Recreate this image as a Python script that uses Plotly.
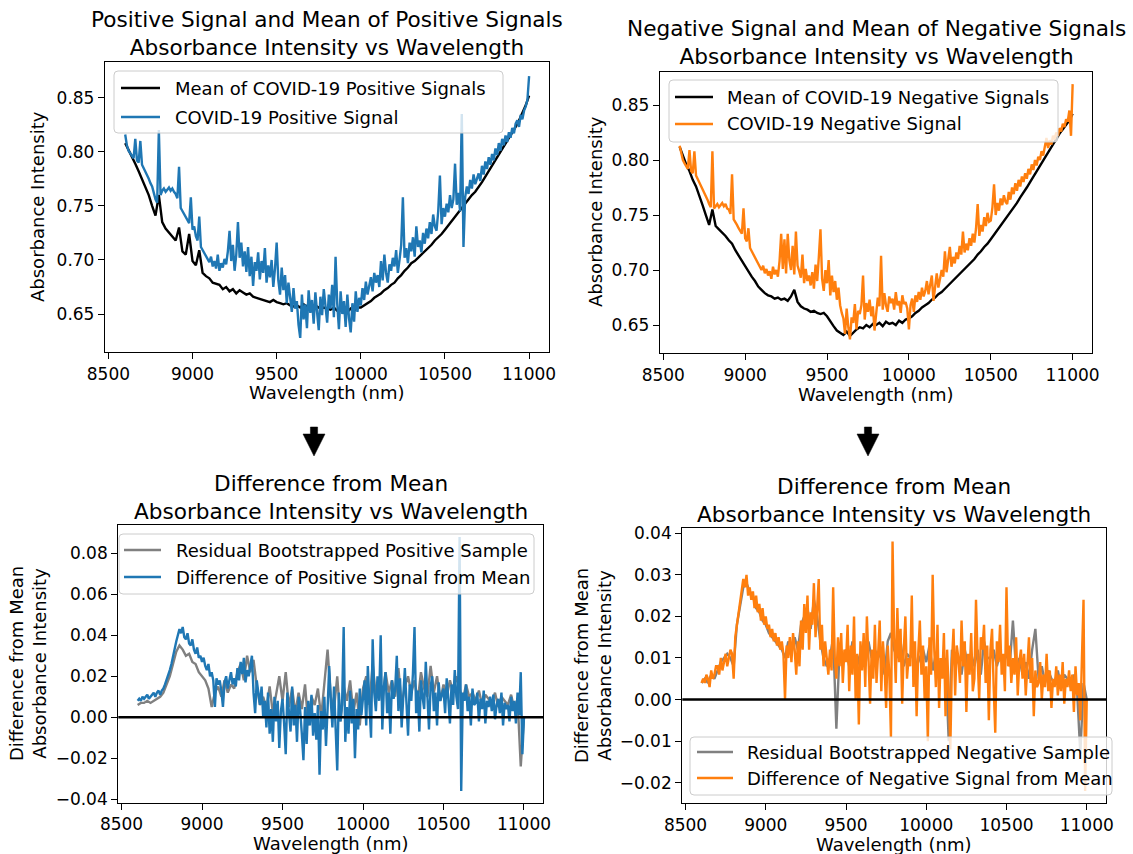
import plotly.graph_objects as go

W, H = 1133, 854
FONT = "DejaVu Sans"

# ---------------- data ----------------
wl_fine = list(range(8600, 11001, 10))     # 241 wavelengths (nm)
wl_coarse = list(range(8600, 11001, 20))   # 121 wavelengths (nm)

mean_pos = [
    .808, .802, .795, .789, .782,
    .775, .768, .760, .750, .741,
    .760, .735, .729, .725, .722,
    .718, .730, .708, .705, .724,
    .699, .695, .709, .688, .685,
    .683, .679, .678, .677, .673,
    .675, .671, .673, .669, .672,
    .670, .668, .669, .666, .665,
    .664, .663, .662, .661, .663,
    .661, .660, .659, .660, .658,
    .657, .658, .656, .659, .657,
    .658, .656, .657, .655, .656,
    .655, .654, .656, .653, .655,
    .654, .652, .655, .653, .656,
    .656, .658, .660, .662, .665,
    .667, .669, .672, .674, .677,
    .679, .683, .686, .690, .693,
    .697, .699, .702, .705, .708,
    .711, .714, .718, .721, .724,
    .728, .732, .736, .740, .744,
    .749, .752, .756, .760, .763,
    .767, .772, .777, .782, .787,
    .792, .797, .802, .807, .812,
    .817, .823, .829, .836, .843,
    .852]

pos_signal = [
    .816, .806, .801, .799, .796, .794, .812, .792, .790, .810,
    .788, .785, .781, .778, .775, .771, .768, .762, .756, .753,
    .820, .760, .764, .766, .763, .765, .767, .764, .766, .763,
    .761, .757, .786, .748, .745, .742, .739, .736, .734, .758,
    .728, .731, .722, .718, .740, .712, .709, .706, .703, .701,
    .698, .703, .694, .699, .692, .705, .690, .697, .693, .701,
    .696, .708, .727, .699, .714, .690, .705, .735, .702, .716,
    .694, .708, .689, .712, .685, .703, .676, .698, .690, .707,
    .682, .699, .688, .711, .679, .695, .684, .700, .675, .692,
    .716, .681, .668, .693, .672, .686, .660, .679, .665, .652,
    .674, .655, .662, .640, .628, .668, .645, .659, .637, .672,
    .651, .663, .641, .670, .652, .635, .666, .649, .673, .656,
    .642, .668, .655, .677, .647, .703, .659, .636, .671, .650,
    .662, .638, .668, .646, .633, .660, .643, .671, .652, .665,
    .658, .674, .663, .680, .668, .676, .684, .671, .688, .679,
    .686, .675, .699, .681, .705, .688, .679, .696, .690, .702,
    .694, .709, .688, .700, .714, .758, .702, .711, .697, .716,
    .708, .721, .703, .731, .712, .718, .707, .725, .715, .729,
    .720, .735, .724, .742, .731, .727, .745, .778, .733, .748,
    .740, .752, .744, .760, .748, .756, .789, .751, .762, .745,
    .835, .712, .758, .768, .761, .774, .766, .779, .770, .775,
    .780, .773, .787, .779, .791, .784, .795, .788, .798, .792,
    .803, .797, .808, .801, .812, .806, .815, .809, .818, .813,
    .822, .817, .826, .829, .823, .834, .830, .838, .842, .848,
    .870]

mean_neg = [
    .812, .804, .796, .790, .782,
    .776, .768, .759, .750, .741,
    .755, .740, .737, .734, .731,
    .727, .724, .718, .713, .708,
    .703, .698, .694, .690, .685,
    .682, .679, .677, .676, .674,
    .675, .673, .674, .672, .676,
    .682, .671, .667, .665, .664,
    .662, .663, .661, .660, .661,
    .658, .653, .649, .645, .643,
    .641, .644, .640, .643, .646,
    .648, .647, .650, .648, .651,
    .650, .652, .649, .653, .651,
    .652, .650, .654, .652, .655,
    .656, .658, .661, .663, .666,
    .668, .670, .673, .675, .678,
    .680, .683, .686, .689, .692,
    .695, .698, .701, .704, .707,
    .710, .714, .717, .721, .724,
    .728, .732, .736, .740, .744,
    .748, .752, .757, .761, .766,
    .770, .775, .780, .785, .790,
    .795, .800, .805, .810, .815,
    .820, .824, .828, .832, .836,
    .842]

neg_signal = [
    .813, .805, .800, .797, .794, .792, .809, .790, .788, .808,
    .786, .783, .780, .777, .774, .771, .768, .764, .760, .757,
    .808, .756, .758, .760, .757, .759, .761, .758, .760, .756,
    .755, .751, .787, .746, .744, .741, .738, .735, .733, .756,
    .729, .726, .738, .720, .717, .714, .711, .708, .705, .702,
    .700, .704, .697, .701, .695, .699, .692, .703, .696, .700,
    .694, .708, .733, .701, .728, .697, .733, .709, .700, .722,
    .696, .735, .704, .699, .693, .714, .688, .701, .690, .695,
    .686, .698, .683, .705, .690, .712, .737, .692, .681, .700,
    .688, .709, .677, .695, .680, .690, .673, .684, .668, .661,
    .656, .642, .665, .648, .637, .657, .652, .669, .646, .663,
    .660, .668, .695, .655, .670, .662, .673, .658, .667, .645,
    .661, .675, .667, .713, .664, .679, .668, .662, .676, .670,
    .674, .664, .680, .668, .672, .661, .677, .669, .671, .665,
    .646, .668, .674, .662, .677, .671, .680, .673, .684, .676,
    .681, .690, .678, .686, .695, .672, .688, .697, .684, .693,
    .700, .694, .717, .698, .709, .721, .703, .712, .706, .716,
    .710, .722, .714, .735, .716, .724, .718, .729, .722, .733,
    .725, .738, .760, .731, .741, .735, .748, .740, .752, .744,
    .745, .757, .778, .750, .761, .754, .765, .759, .768, .762,
    .760, .771, .764, .775, .769, .779, .772, .782, .776, .785,
    .780, .788, .783, .792, .787, .796, .791, .800, .795, .803,
    .800, .808, .804, .812, .820, .811, .818, .814, .822, .819,
    .825, .822, .829, .826, .833, .830, .837, .835, .845, .822,
    .869]

diff_pos = [
    .008, .009, .008, .010, .009, .010, .011, .009, .010, .011,
    .012, .010, .012, .013, .011, .013, .014, .016, .018, .020,
    .023, .026, .030, .033, .037, .040, .043, .041, .044, .039,
    .038, .041, .036, .035, .038, .033, .031, .034, .029, .030,
    .027, .029, .025, .023, .026, .020, .022, .018, .005, .019,
    .016, .018, .013, .005, .017, .020, .014, .018, .022, .016,
    .019, .015, .024, .018, .027, .021, .029, .017, .023, .020,
    .025, .030, .012, .002, .018, .011, .006, .015, .000, .008,
    -.005, .012, -.008, .004, -.012, .010, -.002, .008, -.015, .003,
    .009, -.003, -.018, .012, .000, -.007, .015, -.004, .006, -.012,
    .010, .003, -.008, -.021, .005, -.013, .008, -.004, .011, -.009,
    .002, -.011, .006, -.028, .003, -.006, .010, -.014, .004, .025,
    .008, -.005, .015, -.009, -.026, .012, -.002, .006, .044, -.012,
    .005, -.008, .013, -.003, .009, -.020, .004, -.006, .014, .001,
    .010, .018, -.004, .025, .006, -.010, .038, .012, .003, .020,
    .008, .040, -.006, .015, .022, .002, .012, -.008, .018, .009,
    .014, .030, .003, .019, -.005, .012, .024, .007, -.009, .016,
    .008, .021, .044, .002, .013, -.007, .018, .010, .004, .027,
    .009, -.006, .015, .020, .003, .012, -.004, .017, .008, .011,
    .014, .002, .019, .009, -.003, .016, .006, .023, .010, .004,
    .088, -.036, .012, .008, .016, .003, .010, -.004, .014, .006,
    .007, .012, -.002, .009, .004, .013, -.003, .008, .005, .010,
    .003, .011, -.001, .006, .009, .002, .012, -.004, .007, .004,
    .006, -.002, .010, .003, .008, -.003, .012, .001, .022, -.018,
    .000]

resid_pos = [
    .006, .007, .007, .008, .007,
    .008, .009, .010, .012, .016,
    .020, .026, .032, .035, .033,
    .030, .031, .027, .026, .022,
    .020, .018, .014, .005, .012,
    .015, .010, .018, .012, .016,
    .014, .022, .026, .018, .030,
    .022, .028, .015, .006, .010,
    .004, .015, .002, .012, .020,
    .008, .022, .005, .014, .002,
    .012, .004, .016, -.004, .010,
    .006, .014, .000, .018, .033,
    .010, .004, .020, -.002, .015,
    .008, .018, .002, .012, -.004,
    .014, .020, .006, .026, .010,
    .016, .008, .022, .012, .018,
    .010, .024, .006, .015, .020,
    .012, .018, .008, .022, .014,
    .010, .025, .012, .020, .008,
    .016, .010, .018, .012, .020,
    .014, .008, .016, .010, .012,
    .008, .013, .006, .011, .009,
    .007, .012, .005, .010, .008,
    .006, .011, .004, .009, -.024,
    .000]

diff_neg = [
    .004, .005, .004, .006, .005, .003, .007, .005, .006, .008,
    .008, .006, .010, .007, .009, .011, .008, .010, .012, .011,
    .005, .015, .018, .021, .024, .026, .029, .027, .030, .025,
    .027, .024, .026, .022, .025, .021, .023, .019, .022, .018,
    .020, .017, .018, .015, .017, .014, .016, .013, .015, .012,
    .014, .011, .000, .013, .010, .015, .009, .016, .012, .006,
    .014, .008, .019, .012, .023, .016, .025, .012, .021, .018,
    .028, .015, .022, .029, .012, .018, .008, .014, .010, .006,
    .012, .007, .027, .010, .005, .015, .008, .016, .004, .012,
    .009, .018, .002, .013, .006, .020, .000, .011, -.006, .014,
    .007, .016, .003, .020, .010, -.001, .012, .005, .018, .004,
    .011, .019, .002, .014, .008, -.002, .013, .006, -.009, .038,
    .015, .004, .022, .009, .017, -.001, .012, .020, .005, .010,
    .008, .025, .003, .014, -.004, .011, .019, .006, .013, .000,
    .008, -.010, .015, .006, .030, .012, .003, .018, -.002, .010,
    .005, .016, -.004, .012, .002, -.012, .009, .017, .001, .013,
    .010, .004, .019, .008, .014, -.003, .011, .006, .016, .002,
    .005, .024, .010, .000, .015, .012, .018, .004, .013, -.005,
    .012, .017, .003, -.008, .014, .009, .018, .006, .011, .002,
    .027, .008, .013, .004, .010, .006, .015, .001, .009, .012,
    .005, .011, .001, .008, .015, .004, .010, -.004, .007, .003,
    .004, .009, .000, .006, .003, .011, .002, .007, -.002, .005,
    .003, .008, .001, .006, .002, .009, -.001, .005, .003, .007,
    .002, .006, -.003, .008, .001, .004, -.005, .010, .024, -.022,
    .000]

resid_neg = [
    .004, .005, .004, .006, .005,
    .007, .009, .010, .011, .010,
    .008, .018, .023, .027, .028,
    .026, .025, .022, .021, .019,
    .018, .016, .015, .014, .013,
    .012, .010, .014, .011, .015,
    .012, .018, .020, .022, .017,
    .024, .020, .014, .010, .008,
    .010, .015, -.007, .012, .010,
    .012, .008, .014, .006, .010,
    .012, .008, .014, .010, .012,
    .010, .012, .006, .014, .016,
    .012, .010, .014, .008, .011,
    .010, .012, .008, .010, .012,
    .009, .013, .007, .011, .008,
    .006, .010, -.010, .012, .008,
    .010, .006, .012, .008, .011,
    .008, .012, .006, .014, .010,
    .010, .012, .008, .011, .009,
    .011, .008, .019, .007, .010,
    .006, .009, .005, .012, .017,
    .005, .008, .004, .007, .005,
    .004, .007, .003, .006, .005,
    .003, .006, .002, -.013, .004,
    .000]

x_ticks = [8500, 9000, 9500, 10000, 10500, 11000]

BLUE, ORANGE, GRAY = "#1f77b4", "#ff7f0e", "gray"

# ---------------- figure ----------------
fig = go.Figure()
LW = 2.4

fig.add_trace(go.Scatter(x=wl_coarse, y=mean_pos, mode="lines", line=dict(color="black", width=LW),
                         name="Mean of COVID-19 Positive Signals", xaxis="x", yaxis="y"))
fig.add_trace(go.Scatter(x=wl_fine, y=pos_signal, mode="lines", line=dict(color=BLUE, width=LW),
                         name="COVID-19 Positive Signal", xaxis="x", yaxis="y"))
fig.add_trace(go.Scatter(x=wl_coarse, y=mean_neg, mode="lines", line=dict(color="black", width=LW),
                         name="Mean of COVID-19 Negative Signals", xaxis="x2", yaxis="y2"))
fig.add_trace(go.Scatter(x=wl_fine, y=neg_signal, mode="lines", line=dict(color=ORANGE, width=LW),
                         name="COVID-19 Negative Signal", xaxis="x2", yaxis="y2"))
fig.add_trace(go.Scatter(x=wl_coarse, y=resid_pos, mode="lines", line=dict(color=GRAY, width=LW),
                         name="Residual Bootstrapped Positive Sample", xaxis="x3", yaxis="y3"))
fig.add_trace(go.Scatter(x=wl_fine, y=diff_pos, mode="lines", line=dict(color=BLUE, width=LW),
                         name="Difference of Positive Signal from Mean", xaxis="x3", yaxis="y3"))
fig.add_trace(go.Scatter(x=wl_coarse, y=resid_neg, mode="lines", line=dict(color=GRAY, width=LW),
                         name="Residual Bootstrapped Negative Sample", xaxis="x4", yaxis="y4"))
fig.add_trace(go.Scatter(x=wl_fine, y=diff_neg, mode="lines", line=dict(color=ORANGE, width=LW),
                         name="Difference of Negative Signal from Mean", xaxis="x4", yaxis="y4"))


def px(x):
    return x / W


def py(y):
    return 1 - y / H


def xax(x0, x1, anchor):
    return dict(domain=[px(x0), px(x1)], range=[8480, 11120], anchor=anchor, automargin=False,
                tickmode="array", tickvals=x_ticks, ticktext=[str(v) for v in x_ticks],
                showline=True, mirror=True, linecolor="black", linewidth=1.3,
                ticks="outside", ticklen=6, tickwidth=1.3, tickcolor="black",
                showgrid=False, zeroline=False,
                tickfont=dict(family=FONT, size=17, color="black"))


def yax(y0, y1, rng, tick0, dtick, anchor):
    return dict(domain=[py(y1), py(y0)], range=rng, anchor=anchor, automargin=False,
                tick0=tick0, dtick=dtick, tickformat=".2f",
                showline=True, mirror=True, linecolor="black", linewidth=1.3,
                ticks="outside", ticklen=6, tickwidth=1.3, tickcolor="black",
                showgrid=False, zeroline=False,
                tickfont=dict(family=FONT, size=17, color="black"))


shapes = []
annotations = []

# zero lines in the difference panels
for xr, yr in (("x3 domain", "y3"), ("x4 domain", "y4")):
    shapes.append(dict(type="line", xref=xr, yref=yr, x0=0, x1=1, y0=0, y1=0,
                       line=dict(color="black", width=2.4), layer="above"))


def rounded_rect(x0, y0, x1, y1, r=4):
    pts = []
    pts.append(f"M {px(x0 + r)},{py(y0)}")
    pts.append(f"L {px(x1 - r)},{py(y0)}")
    pts.append(f"Q {px(x1)},{py(y0)} {px(x1)},{py(y0 + r)}")
    pts.append(f"L {px(x1)},{py(y1 - r)}")
    pts.append(f"Q {px(x1)},{py(y1)} {px(x1 - r)},{py(y1)}")
    pts.append(f"L {px(x0 + r)},{py(y1)}")
    pts.append(f"Q {px(x0)},{py(y1)} {px(x0)},{py(y1 - r)}")
    pts.append(f"L {px(x0)},{py(y0 + r)}")
    pts.append(f"Q {px(x0)},{py(y0)} {px(x0 + r)},{py(y0)}")
    pts.append("Z")
    return " ".join(pts)


def legend(box, rows, xl0, xl1, xt):
    x0, y0, x1, y1 = box
    shapes.append(dict(type="path", xref="paper", yref="paper", path=rounded_rect(x0, y0, x1, y1),
                       fillcolor="rgba(255,255,255,0.8)", line=dict(color="#cccccc", width=1),
                       layer="above"))
    for yrow, color, text in rows:
        shapes.append(dict(type="line", xref="paper", yref="paper", x0=px(xl0), x1=px(xl1),
                           y0=py(yrow), y1=py(yrow), line=dict(color=color, width=2.4), layer="above"))
        annotations.append(dict(x=px(xt), y=py(yrow), xref="paper", yref="paper", text=text,
                                showarrow=False, xanchor="left", yanchor="middle",
                                font=dict(family=FONT, size=18, color="black")))


legend((114, 71, 503, 133), [(88, "black", "Mean of COVID-19 Positive Signals"),
                             (117, BLUE, "COVID-19 Positive Signal")], 121, 160, 173)
legend((669, 80, 1058, 142), [(97, "black", "Mean of COVID-19 Negative Signals"),
                              (124, ORANGE, "COVID-19 Negative Signal")], 675, 713, 725)
legend((119, 534, 534, 594), [(550, GRAY, "Residual Bootstrapped Positive Sample"),
                              (577, BLUE, "Difference of Positive Signal from Mean")], 124, 161, 174)
legend((690, 737, 1112, 795), [(752, GRAY, "Residual Bootstrapped Negative Sample"),
                               (778, ORANGE, "Difference of Negative Signal from Mean")], 697, 733, 745)


def text(x, y, s, size=18, angle=0):
    annotations.append(dict(x=px(x), y=py(y), xref="paper", yref="paper", text=s, showarrow=False,
                            xanchor="center", yanchor="middle", textangle=angle,
                            font=dict(family=FONT, size=size, color="black")))


# titles
text(327, 33, "Positive Signal and Mean of Positive Signals<br>Absorbance Intensity vs Wavelength", 21.6)
text(876, 42, "Negative Signal and Mean of Negative Signals<br>Absorbance Intensity vs Wavelength", 21.6)
text(331, 497, "Difference from Mean<br>Absorbance Intensity vs Wavelength", 21.6)
text(894, 500, "Difference from Mean<br>Absorbance Intensity vs Wavelength", 21.6)

# axis labels
text(327, 393, "Wavelength (nm)")
text(876, 395, "Wavelength (nm)")
text(331, 843, "Wavelength (nm)")
text(894, 844, "Wavelength (nm)")
text(38, 207, "Absorbance Intensity", angle=-90)
text(595, 212, "Absorbance Intensity", angle=-90)
text(28, 664, "Difference from Mean<br>Absorbance Intensity", angle=-90)
text(593, 666, "Difference from Mean<br>Absorbance Intensity", angle=-90)


# arrows between the rows
def arrow(xc, ytop, yneck, ytip, stem=3.6, head=11):
    pts = [(xc - stem, ytop), (xc + stem, ytop), (xc + stem, yneck), (xc + head, yneck),
           (xc, ytip), (xc - head, yneck), (xc - stem, yneck)]
    path = "M " + " L ".join(f"{px(a)},{py(b)}" for a, b in pts) + " Z"
    shapes.append(dict(type="path", xref="paper", yref="paper", path=path,
                       fillcolor="black", line=dict(color="black", width=0.5)))


arrow(314, 427, 434, 456)
arrow(868, 427, 434, 456)

fig.update_layout(
    width=W, height=H, margin=dict(l=0, r=0, t=0, b=0, autoexpand=False),
    paper_bgcolor="white", plot_bgcolor="white", showlegend=False,
    font=dict(family=FONT, size=17, color="black"),
    xaxis=xax(105, 549.3, "y"), yaxis=yax(62, 352, [0.6149, 0.883], 0.65, 0.05, "x"),
    xaxis2=xax(660, 1092.3, "y2"), yaxis2=yax(71.7, 353.3, [0.6243, 0.8803], 0.65, 0.05, "x2"),
    xaxis3=xax(118.3, 543.3, "y3"), yaxis3=yax(525, 802.7, [-0.0417, 0.0938], -0.04, 0.02, "x3"),
    xaxis4=xax(682.3, 1106, "y4"), yaxis4=yax(528.3, 803.3, [-0.02496, 0.0412], -0.02, 0.01, "x4"),
    shapes=shapes, annotations=annotations,
)

fig.write_html("out.html")
